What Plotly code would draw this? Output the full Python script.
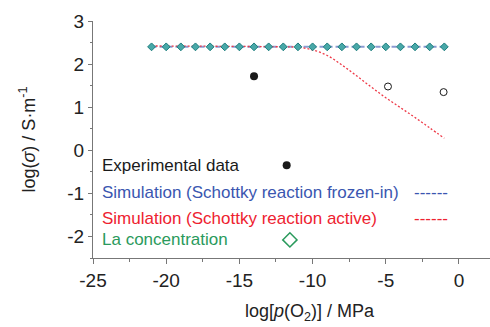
import plotly.graph_objects as go

# --- data ---
# La concentration / frozen-in simulation: flat level across the pO2 range
la_x = [-21, -20, -19, -18, -17, -16, -15, -14, -13, -12, -11,
        -10, -9, -8, -7, -6, -5, -4, -3, -2, -1]
la_y = [2.4] * len(la_x)

frozen_x = [-21, -1]
frozen_y = [2.4, 2.4]

# Simulation with the Schottky reaction active
active_x = [-21, -15, -12, -11, -10, -9, -8, -7, -6, -5, -4, -3, -2, -1]
active_y = [2.42, 2.41, 2.40, 2.39, 2.33, 2.20, 1.98, 1.73, 1.47, 1.22, 0.99, 0.76, 0.52, 0.28]

# Experimental points
exp_filled_x = [-14.0]
exp_filled_y = [1.72]
exp_open_x = [-4.85, -1.05]
exp_open_y = [1.48, 1.35]

# Tick labels (plain hyphen minus)
x_ticks = [-25, -20, -15, -10, -5, 0]
x_tick_text = ["-25", "-20", "-15", "-10", "-5", "0"]
y_ticks = [-2, -1, 0, 1, 2, 3]
y_tick_text = ["-2", "-1", "0", "1", "2", "3"]

FONT = "Liberation Sans, Arial, sans-serif"
BLACK = "#1a1a1a"
BLUE = "#3a56b0"
RED = "#ee2230"
GREEN = "#2a9a5c"
AXIS = "#777"

fig = go.Figure()

fig.add_trace(go.Scatter(x=frozen_x, y=frozen_y, mode="lines",
                         line=dict(color="#8c9ad2", width=2, dash="5px,3px")))
fig.add_trace(go.Scatter(x=active_x, y=active_y, mode="lines", line_shape="spline",
                         line=dict(color="#ee3a48", width=1.3, dash="2px,2px")))
fig.add_trace(go.Scatter(x=la_x, y=la_y, mode="markers",
                         marker=dict(symbol="diamond", size=6, color="#48a8a8",
                                     line=dict(color="#1d7e7e", width=1))))
fig.add_trace(go.Scatter(x=exp_filled_x, y=exp_filled_y, mode="markers",
                         marker=dict(symbol="circle", size=8, color=BLACK)))
fig.add_trace(go.Scatter(x=exp_open_x, y=exp_open_y, mode="markers",
                         marker=dict(symbol="circle-open", size=7, color=BLACK,
                                     line=dict(width=1))))

# Legend drawn inside the plotting area
legend_rows = [
    ("Experimental data", BLACK, -0.35),
    ("Simulation (Schottky reaction frozen-in)", BLUE, -0.98),
    ("Simulation (Schottky reaction active)", RED, -1.58),
    ("La concentration", GREEN, -2.08),
]
for text, color, yy in legend_rows:
    fig.add_annotation(x=-24.55, y=yy, xref="x", yref="y", text=text, showarrow=False,
                       xanchor="left", yanchor="middle",
                       font=dict(family=FONT, size=17, color=color))

fig.add_trace(go.Scatter(x=[-11.77], y=[-0.35], mode="markers",
                         marker=dict(symbol="circle", size=8, color=BLACK)))
fig.add_trace(go.Scatter(x=[-11.55], y=[-2.08], mode="markers",
                         marker=dict(symbol="diamond-open", size=11, color=GREEN,
                                     line=dict(width=1.5))))
for color, yy in [(BLUE, -0.98), (RED, -1.58)]:
    fig.add_annotation(x=-1.9, y=yy, xref="x", yref="y", text="------", showarrow=False,
                       xanchor="center", yanchor="middle",
                       font=dict(family=FONT, size=17, color=color))

fig.update_layout(
    width=490, height=327,
    margin=dict(l=93, r=0, t=21, b=69),
    paper_bgcolor="white", plot_bgcolor="white",
    showlegend=False,
    font=dict(family=FONT, size=18, color="#222"),
)

axis_common = dict(
    showline=True, linecolor=AXIS, linewidth=1.3, showgrid=False, zeroline=False,
    ticks="outside", tickcolor=AXIS, tickwidth=1,
    tickfont=dict(family=FONT, size=19, color="#222"),
)
fig.update_xaxes(range=[-25, 2.12], tickvals=x_ticks, ticktext=x_tick_text, ticklen=5,
                 minor=dict(dtick=2.5, tick0=0, ticks="outside", ticklen=3, tickcolor=AXIS),
                 **axis_common)
fig.update_yaxes(range=[-2.5, 3], tickvals=y_ticks, ticktext=y_tick_text, ticklen=4,
                 minor=dict(dtick=0.5, tick0=0, ticks="outside", ticklen=2, tickcolor=AXIS),
                 **axis_common)

# Axis titles
fig.add_annotation(x=(310 - 93) / 397, y=0, xref="paper", yref="paper", yshift=-54,
                   xanchor="center", yanchor="middle",
                   text="log[<i>p</i>(O<sub>2</sub>)] / MPa", showarrow=False,
                   font=dict(family=FONT, size=18, color="#222"))
fig.add_annotation(x=0, y=0.5, xref="paper", yref="paper", xshift=-65,
                   xanchor="center", yanchor="middle",
                   text="log(<i>σ</i>) / S·m<sup>-1</sup>", showarrow=False, textangle=-90,
                   font=dict(family=FONT, size=18, color="#222"))

fig.write_html("out.html")
